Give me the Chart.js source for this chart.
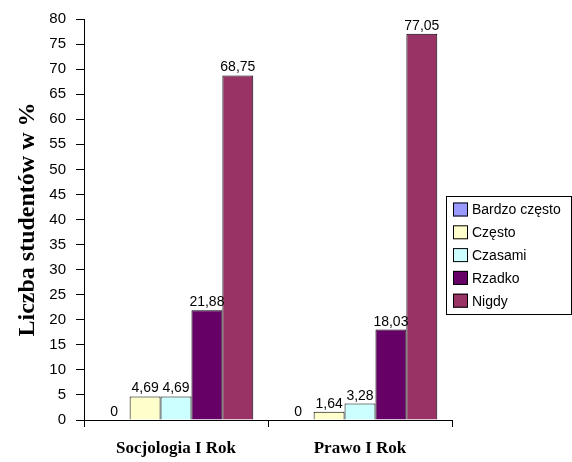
<!DOCTYPE html>
<html>
<head>
<meta charset="utf-8">
<script src="https://cdn.jsdelivr.net/npm/chart.js@4/dist/chart.umd.min.js"></script>
<style>
  html, body { margin: 0; padding: 0; background: #fff; }
  #wrap { width: 572px; height: 462px; }
</style>
</head>
<body>
<div id="wrap"><canvas id="myChart" width="572" height="462"></canvas></div>
<script>
// dane z wykresu
const categories = ['Socjologia I Rok', 'Prawo I Rok'];
const seriesNames = ['Bardzo często', 'Często', 'Czasami', 'Rzadko', 'Nigdy'];
const bardzoCzesto = [0, 0];
const czesto = [4.69, 1.64];
const czasami = [4.69, 3.28];
const rzadko = [21.88, 18.03];
const nigdy = [68.75, 77.05];
const yTicks = [0, 5, 10, 15, 20, 25, 30, 35, 40, 45, 50, 55, 60, 65, 70, 75, 80];

const colors = ['#9999FF', '#FFFFCC', '#CCFFFF', '#660066', '#993366'];
const values = [bardzoCzesto, czesto, czasami, rzadko, nigdy];

const fmt = v => String(v).replace('.', ',');

// etykiety nad slupkami
const valueLabels = {
  id: 'valueLabels',
  afterDatasetsDraw(chart) {
    const c = chart.ctx;
    c.save();
    c.font = '14px "Liberation Sans", Arial, sans-serif';
    c.fillStyle = '#000';
    c.textAlign = 'center';
    c.textBaseline = 'alphabetic';
    chart.data.datasets.forEach((ds, i) => {
      chart.getDatasetMeta(i).data.forEach((bar, j) => {
        c.fillText(fmt(ds.data[j]), bar.x, bar.y - 4);
      });
    });
    c.restore();
  }
};

// legenda w ramce (jak w Excelu)
const boxLegend = {
  id: 'boxLegend',
  afterDraw(chart) {
    const c = chart.ctx;
    const x = 446, y = 196, w = 125, h = 118;
    c.save();
    c.strokeStyle = '#000';
    c.lineWidth = 1;
    c.strokeRect(x + 0.5, y + 0.5, w, h);
    c.font = '14px "Liberation Sans", Arial, sans-serif';
    c.textBaseline = 'middle';
    c.textAlign = 'left';
    chart.data.datasets.forEach((ds, i) => {
      const cy = y + 13.5 + i * 22.8;
      c.fillStyle = ds.backgroundColor;
      c.fillRect(x + 7, cy - 7, 15, 14);
      c.strokeStyle = '#000';
      c.strokeRect(x + 7.5, cy - 6.5, 14, 13);
      c.fillStyle = '#000';
      c.fillText(ds.label, x + 26, cy + 1);
    });
    c.restore();
  }
};

const ctx = document.getElementById('myChart').getContext('2d');
const myChart = new Chart(ctx, {
  type: 'bar',
  data: {
    labels: categories,
    datasets: seriesNames.map((name, i) => ({
      label: name,
      data: values[i],
      backgroundColor: colors[i],
      borderColor: '#000',
      borderWidth: 1
    }))
  },
  options: {
    responsive: false,
    animation: false,
    layout: { padding: { top: 17, right: 120, left: 0, bottom: 0 } },
    datasets: { bar: { barPercentage: 1, categoryPercentage: 0.84 } },
    plugins: {
      legend: { display: false },
      tooltip: { enabled: false }
    },
    scales: {
      x: {
        grid: { drawOnChartArea: false, drawTicks: true, tickLength: 7, color: '#000', offset: true },
        border: { color: '#000', width: 1 },
        ticks: {
          padding: 11,
          color: '#000',
          font: { family: '"Liberation Serif", "Times New Roman", serif', size: 17, weight: 'bold' }
        },
        afterFit(scale) { scale.height = 42; }
      },
      y: {
        min: 0,
        max: 80,
        afterBuildTicks(scale) { scale.ticks = yTicks.map(v => ({ value: v })); },
        grid: { drawOnChartArea: false, drawTicks: true, tickLength: 8, color: '#000' },
        border: { color: '#000', width: 1 },
        ticks: {
          padding: 10,
          color: '#000',
          font: { family: '"Liberation Sans", Arial, sans-serif', size: 15 }
        },
        title: {
          display: true,
          text: 'Liczba studentów w %',
          color: '#000',
          padding: { top: 13, bottom: 0 },
          font: { family: '"Liberation Serif", "Times New Roman", serif', size: 24, weight: 'bold' }
        },
        afterFit(scale) { scale.width = 84; }
      }
    }
  },
  plugins: [valueLabels, boxLegend]
});
</script>
</body>
</html>
